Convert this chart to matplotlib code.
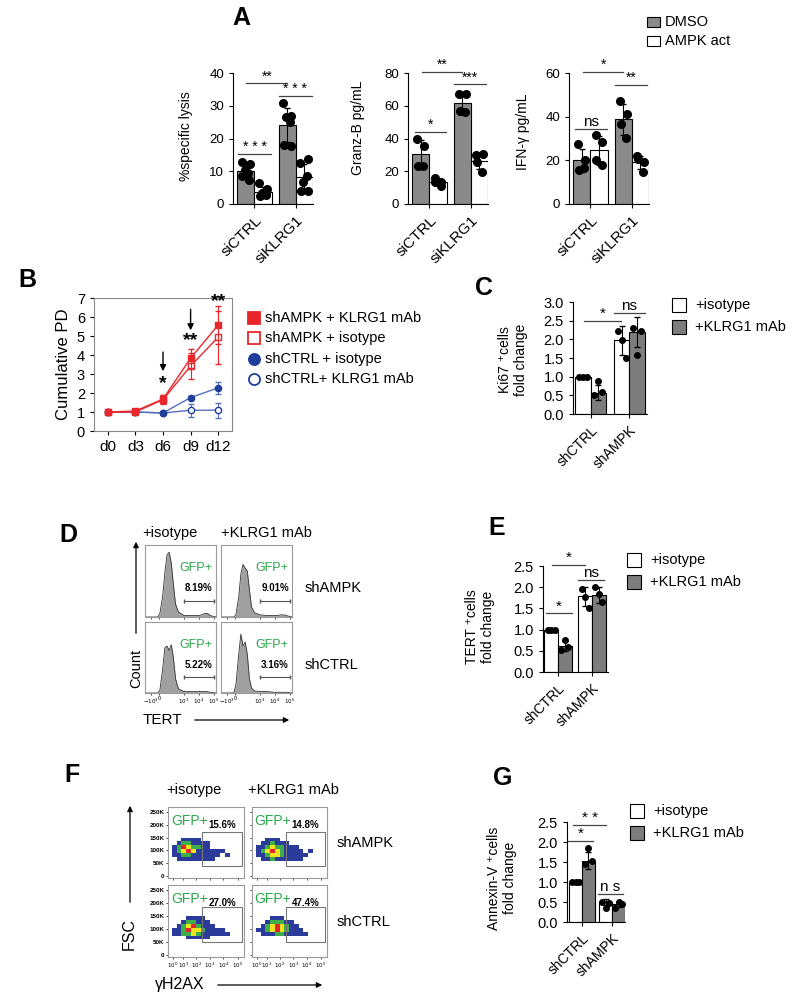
import numpy as np
import matplotlib
matplotlib.use("Agg")
import matplotlib.pyplot as plt
from matplotlib.patches import Rectangle
from matplotlib.colors import ListedColormap

plt.rcParams['font.family'] = ['Liberation Sans', 'DejaVu Sans']
plt.rcParams['axes.linewidth'] = 0.8

# --- DATA ---
# A: dots per group (siCTRL, siKLRG1)
a_groups = ["siCTRL", "siKLRG1"]
lysis_dmso = [[12.8, 12.2, 10.5, 9.5, 8.5, 7.3], [30.7, 27.0, 26.5, 25.0, 18.0, 17.7]]
lysis_act = [[6.5, 4.5, 3.5, 3.0, 2.5, 2.8], [12.4, 13.6, 6.8, 8.5, 4.1, 4.1]]
granz_dmso = [[40.0, 35.5, 23.4, 23.4], [67.4, 67.4, 56.9, 56.2]]
granz_act = [[15.6, 13.6, 13.2, 11.0], [29.8, 30.5, 25.8, 19.7]]
ifn_dmso = [[27.4, 20.1, 15.5, 16.7], [47.2, 41.4, 36.5, 30.4]]
ifn_act = [[31.8, 28.5, 20.1, 17.8], [21.9, 19.3, 20.4, 14.8]]

# B: cumulative population doublings
b_days = ["d0", "d3", "d6", "d9", "d12"]
pd_ampk_mab = [1.0, 1.05, 1.68, 3.83, 5.58]
pd_ampk_mab_err = [0.0, 0.05, 0.2, 0.5, 1.0]
pd_ampk_iso = [1.0, 1.0, 1.65, 3.42, 4.94]
pd_ampk_iso_err = [0.0, 0.05, 0.25, 0.7, 1.4]
pd_ctrl_iso = [1.0, 1.0, 0.95, 1.76, 2.27]
pd_ctrl_iso_err = [0.0, 0.03, 0.05, 0.08, 0.3]
pd_ctrl_mab = [1.0, 1.0, 0.95, 1.09, 1.1]
pd_ctrl_mab_err = [0.0, 0.03, 0.05, 0.35, 0.4]

# C, E, G: fold change (shCTRL, shAMPK)
sh_groups = ["shCTRL", "shAMPK"]
ki67_iso = [[1.0, 1.0, 1.0], [2.23, 1.98, 1.49]]
ki67_mab = [[0.51, 0.89, 0.58], [2.3, 1.57, 2.23]]
ki67_bar_iso = [1.0, 1.97]
ki67_bar_mab = [0.57, 2.2]
tert_iso = [[1.0, 1.0, 1.0], [1.95, 1.77, 1.5]]
tert_mab = [[0.53, 0.76, 0.6], [2.01, 1.84, 1.64]]
tert_bar_iso = [1.0, 1.79]
tert_bar_mab = [0.61, 1.81]
annex_iso = [[1.0, 1.0, 1.0], [0.5, 0.36, 0.48]]
annex_mab = [[1.46, 1.86, 1.53], [0.36, 0.5, 0.46]]
annex_bar_iso = [1.0, 0.49]
annex_bar_mab = [1.53, 0.44]

# D: TERT histograms (fraction of axis), shape
hist_x = [0, .18, .21, .25, .28, .31, .34, .37, .40, .43, .47, .55, .65, .75, .8, .84, .88, .92, 1]
hist_ampk_iso = [0, 0, .05, .3, .62, .86, .9, .75, .45, .18, .07, .02, .02, .02, .03, .05, .05, .02, 0]
hist_ampk_mab = [0, 0, .03, .28, .6, .73, .68, .64, .38, .14, .06, .03, .02, .02, .02, .03, .03, .02, 0]
hist_ctrl_iso = [0, 0, .04, .35, .64, .66, .6, .68, .5, .2, .06, .02, .02, .02, .02, .02, .02, .01, 0]
hist_ctrl_mab = [0, 0, .12, .55, .83, .66, .72, .55, .2, .07, .03, .02, .02, .01, .01, .01, .01, .01, 0]
d_pct = ["8.19%", "9.01%", "5.22%", "3.16%"]

# F: gammaH2AX vs FSC density levels (rows 60K->150K, columns along x)
dens_ampk_iso = [[0, 1, 1, 1, 1, 1, 1, 1, 1, 0, 0, 0],
                 [1, 1, 2, 2, 1, 1, 1, 1, 1, 1, 0, 1],
                 [1, 2, 3, 4, 3, 1, 1, 1, 1, 1, 1, 0],
                 [1, 2, 4, 3, 2, 2, 1, 1, 0, 0, 0, 0],
                 [0, 1, 2, 2, 1, 1, 1, 1, 0, 0, 0, 0],
                 [0, 0, 1, 1, 1, 1, 0, 0, 0, 0, 0, 0]]
dens_ampk_mab = [[0, 1, 1, 2, 1, 1, 1, 1, 1, 1, 0, 0],
                 [1, 1, 2, 3, 3, 2, 1, 1, 1, 1, 1, 0],
                 [1, 2, 3, 4, 3, 2, 1, 1, 1, 1, 0, 1],
                 [1, 1, 2, 3, 2, 2, 1, 1, 1, 0, 0, 0],
                 [0, 1, 1, 2, 1, 1, 1, 0, 0, 0, 0, 0],
                 [0, 0, 1, 1, 1, 0, 0, 0, 0, 0, 0, 0]]
dens_ctrl_iso = [[0, 0, 0, 1, 1, 1, 1, 1, 0, 0, 0, 0],
                 [1, 1, 2, 2, 3, 2, 1, 1, 1, 1, 1, 1],
                 [1, 1, 2, 4, 3, 3, 2, 1, 1, 1, 1, 0],
                 [0, 1, 2, 3, 4, 2, 1, 1, 1, 0, 0, 0],
                 [0, 0, 1, 2, 2, 1, 1, 1, 0, 0, 0, 0],
                 [0, 0, 0, 1, 1, 1, 1, 0, 0, 0, 0, 0]]
dens_ctrl_mab = [[0, 0, 0, 0, 0, 0, 0, 0, 0, 0, 0, 0],
                 [0, 1, 1, 1, 2, 2, 1, 1, 1, 1, 1, 0],
                 [1, 1, 2, 3, 4, 3, 2, 1, 1, 1, 0, 0],
                 [0, 1, 2, 3, 4, 3, 2, 1, 1, 0, 0, 0],
                 [0, 0, 1, 2, 2, 2, 1, 1, 0, 0, 0, 0],
                 [0, 0, 0, 1, 1, 1, 0, 0, 0, 0, 0, 0]]
f_pct = ["15.6%", "14.8%", "27.0%", "47.4%"]

# --- FIGURE ---
W, H = 800, 1007
fig = plt.figure(figsize=(8, 10.07), dpi=100)

# horizontal scatter of dots inside a bar (fraction of bar width)
jitter = {3: [-0.25, 0.0, 0.25], 4: [-0.2, 0.2, -0.15, 0.15], 6: [-0.22, 0.22, -0.05, 0.15, -0.2, 0.2]}


def px_axes(x0, y0, x1, y1):
    return fig.add_axes([x0 / W, 1 - y1 / H, (x1 - x0) / W, (y1 - y0) / H])


def draw_bars(ax, series, heights, colors, width, ms):
    for t, (pts_by_group, col) in enumerate(zip(series, colors)):
        for g, pts in enumerate(pts_by_group):
            x = g + (t - 0.5) * width
            m = heights[t][g] if heights is not None else np.mean(pts)
            sd = np.std(pts, ddof=1)
            ax.bar(x, m, width, color=col, edgecolor='black', linewidth=0.8, zorder=2)
            ax.errorbar(x, m, yerr=sd, color='black', capsize=2.5, lw=0.8, zorder=3)
            offs = np.array(jitter[len(pts)]) * width
            ax.plot(x + offs, pts, 'o', color='black', ms=ms, zorder=4)


def sig(ax, x0, x1, y, label, fs=10, pad=0.0):
    ax.plot([x0, x1], [y, y], color='#444444', lw=0.9, clip_on=False)
    ax.text((x0 + x1) / 2, y + pad, label, ha='center', va='bottom', fontsize=fs, clip_on=False)


def style_bar_axes(ax, groups, xlim, ylim, yticks, ylabels, fs_y, fs_x):
    ax.set_xlim(*xlim)
    ax.set_ylim(*ylim)
    ax.set_yticks(yticks)
    ax.set_yticklabels(ylabels, fontsize=fs_y)
    ax.set_xticks([0, 1])
    ax.set_xticklabels(groups, rotation=45, ha='right', rotation_mode='anchor', fontsize=fs_x)
    for s in ['top', 'right']:
        ax.spines[s].set_visible(False)
    ax.tick_params(length=3, width=0.8)


# Panel A
a_sets = [(lysis_dmso, lysis_act, (233, 73, 313, 204), 40, [0, 10, 20, 30, 40],
           [(-0.41, 0.41, 15.2, "* * *"), (-0.2, 0.8, 36.8, "**"), (0.59, 1.39, 32.9, "* * *")]),
          (granz_dmso, granz_act, (408, 73, 488, 204), 80, [0, 20, 40, 60, 80],
           [(-0.36, 0.4, 44, "*"), (-0.19, 0.79, 80.6, "**"), (0.6, 1.36, 73, "***")]),
          (ifn_dmso, ifn_act, (569, 73, 649, 204), 60, [0, 20, 40, 60],
           [(-0.38, 0.4, 34.5, "ns"), (-0.17, 0.79, 60.4, "*"), (0.6, 1.36, 54.6, "**")])]
for dmso, act, box, ymax, ticks, sigs in a_sets:
    ax = px_axes(*box)
    draw_bars(ax, [dmso, act], None, ['#8a8a8a', 'white'], 0.415, 5.5)
    style_bar_axes(ax, a_groups, (-0.52, 1.42), (0, ymax), ticks, [str(t) for t in ticks], 9.5, 11)
    for x0, x1, y, lab in sigs:
        sig(ax, x0, x1, y, lab, fs=10 if lab != "ns" else 11)

# Panel B
axb = px_axes(94, 298, 232, 431)
xb = np.arange(len(b_days))
red, blue_l, blue_m = '#e8262c', '#5470c0', '#1f3e9c'
axb.errorbar(xb, pd_ctrl_mab, yerr=pd_ctrl_mab_err, color=blue_l, marker='o', mfc='white', mec=blue_m,
             ms=4.5, lw=1, capsize=2, elinewidth=0.8, zorder=3)
axb.errorbar(xb, pd_ctrl_iso, yerr=pd_ctrl_iso_err, color=blue_l, marker='o', mfc=blue_m, mec=blue_m,
             ms=4.5, lw=1, capsize=2, elinewidth=0.8, zorder=3)
axb.errorbar(xb, pd_ampk_iso, yerr=pd_ampk_iso_err, color=red, marker='s', mfc='white', mec=red,
             ms=5, lw=1, capsize=2, elinewidth=0.8, zorder=4)
axb.errorbar(xb, pd_ampk_mab, yerr=pd_ampk_mab_err, color=red, marker='s', mfc=red, mec=red,
             ms=5, lw=1, capsize=2, elinewidth=0.8, zorder=5)
axb.set_xlim(-0.5, 4.5)
axb.set_ylim(0, 7)
axb.set_yticks(range(8))
axb.tick_params(labelsize=10.5, length=3, width=0.8)
axb.set_xticks(xb)
axb.set_xticklabels(b_days, fontsize=11)
for s in axb.spines.values():
    s.set_color('#888888')
axb.set_ylabel("Cumulative PD", fontsize=12, labelpad=4)
axb.annotate('', xy=(2, 3.0), xytext=(2, 4.3), arrowprops=dict(arrowstyle='-|>', color='black', lw=1, mutation_scale=9))
axb.annotate('', xy=(3, 5.15), xytext=(3, 6.55), arrowprops=dict(arrowstyle='-|>', color='black', lw=1, mutation_scale=9))
axb.text(2, 2.05, "*", ha='center', va='bottom', fontsize=14, fontweight='bold')
axb.text(3, 4.3, "**", ha='center', va='bottom', fontsize=14, fontweight='bold')
axb.text(4, 6.35, "**", ha='center', va='bottom', fontsize=14, fontweight='bold', clip_on=False)

# Panel C
axc = px_axes(573, 302, 647, 414)
draw_bars(axc, [ki67_iso, ki67_mab], [ki67_bar_iso, ki67_bar_mab], ['white', '#7d7d7d'], 0.4, 4)
fold_ticks = [0, 0.5, 1.0, 1.5, 2.0, 2.5, 3.0]
style_bar_axes(axc, sh_groups, (-0.45, 1.45), (0, 3), fold_ticks, [f"{t:.1f}" for t in fold_ticks], 10.5, 10)
sig(axc, -0.18, 0.79, 2.5, "*", fs=11)
sig(axc, 0.6, 1.39, 2.7, "ns", fs=11)

# Panel E
axe = px_axes(543, 566, 608, 672)
draw_bars(axe, [tert_iso, tert_mab], [tert_bar_iso, tert_bar_mab], ['white', '#7d7d7d'], 0.4, 4)
e_ticks = [0, 0.5, 1.0, 1.5, 2.0, 2.5]
style_bar_axes(axe, sh_groups, (-0.44, 1.47), (0, 2.5), e_ticks, [f"{t:.1f}" for t in e_ticks], 10.5, 10)
sig(axe, -0.18, 0.79, 2.52, "*", fs=11)
sig(axe, -0.35, 0.41, 1.38, "*", fs=11)
sig(axe, 0.59, 1.35, 2.17, "ns", fs=11)

# Panel G
axg = px_axes(567, 822, 625, 922)
draw_bars(axg, [annex_iso, annex_mab], [annex_bar_iso, annex_bar_mab], ['white', '#7d7d7d'], 0.43, 4)
style_bar_axes(axg, sh_groups, (-0.5, 1.43), (0, 2.5), e_ticks, [f"{t:.1f}" for t in e_ticks], 10.5, 10)
sig(axg, -0.47, 0.37, 2.02, "*", fs=11)
sig(axg, -0.3, 0.8, 2.42, "* *", fs=11)
sig(axg, 0.53, 1.37, 0.69, "n s", fs=11)

# Panel D histograms
d_boxes = [(145, 545, 216, 617), (221, 545, 292, 617), (145, 622, 216, 693), (221, 622, 292, 693)]
d_hists = [hist_ampk_iso, hist_ampk_mab, hist_ctrl_iso, hist_ctrl_mab]
for i, (box, hy, pct) in enumerate(zip(d_boxes, d_hists, d_pct)):
    ax = px_axes(*box)
    ax.fill_between(hist_x, hy, color='#a0a0a0', lw=0)
    ax.plot(hist_x, hy, color='#333333', lw=0.6)
    ax.plot([0.55, 0.97], [0.22, 0.22], color='#555555', lw=0.8, marker='|', ms=3)
    ax.text(0.72, 0.68, "GFP+", color='#2aa84a', fontsize=9, ha='center', va='center', transform=ax.transAxes)
    ax.text(0.76, 0.4, pct, fontsize=7, fontweight='bold', ha='center', va='center', transform=ax.transAxes)
    ax.set_xlim(0, 1)
    ax.set_ylim(0, 1)
    ax.set_yticks([])
    ax.set_xticks([0.08, 0.2, 0.55, 0.76, 0.97])
    if i >= 2:
        ax.set_xticklabels(["$-10^3$", "0", "$10^3$", "$10^4$", "$10^5$"], fontsize=4)
    else:
        ax.set_xticklabels([])
    ax.tick_params(axis='x', length=1.5, width=0.5, pad=1)
    for s in ax.spines.values():
        s.set_color('#9a9a9a')

# Panel F dot plots
f_boxes = [(168, 807, 244, 878), (252, 807, 327, 878), (168, 885, 244, 957), (252, 885, 327, 957)]
f_dens = [dens_ampk_iso, dens_ampk_mab, dens_ctrl_iso, dens_ctrl_mab]
flow_cmap = ListedColormap(['#2a3b9c', '#3fae4a', '#f2e41c', '#e4262c'])
xe = np.linspace(0.05, 0.81, 13)
ye = np.linspace(60, 150, 7)
for i, (box, dens, pct) in enumerate(zip(f_boxes, f_dens, f_pct)):
    ax = px_axes(*box)
    z = np.ma.masked_equal(np.array(dens, dtype=float), 0)
    ax.pcolormesh(xe, ye, z, cmap=flow_cmap, vmin=0.5, vmax=4.5)
    gy0 = 39 if i < 2 else 50
    ax.add_patch(Rectangle((0.45, gy0), 0.52, 134, fill=False, ec='#777777', lw=0.8))
    ax.text(0.28, 0.8, "GFP+", color='#2aa84a', fontsize=10, ha='center', va='center', transform=ax.transAxes)
    ax.text(0.71, 0.75, pct, fontsize=7, fontweight='bold', ha='center', va='center', transform=ax.transAxes)
    ax.set_xlim(0, 1)
    ax.set_ylim(-8, 270)
    ax.set_yticks([0, 50, 100, 150, 200, 250])
    ax.set_xticks([0.06, 0.2, 0.37, 0.55, 0.73, 0.92])
    if i % 2 == 0:
        ax.set_yticklabels(["0", "50K", "100K", "150K", "200K", "250K"], fontsize=4.5, fontweight='bold')
    else:
        ax.set_yticklabels([])
    if i >= 2:
        ax.set_xticklabels(["$10^0$", "$10^1$", "$10^2$", "$10^3$", "$10^4$", "$10^5$"], fontsize=4)
    else:
        ax.set_xticklabels([])
    ax.tick_params(length=1.5, width=0.5, pad=1)
    for s in ax.spines.values():
        s.set_color('#9a9a9a')

# --- overlay for labels, legends and arrows (pixel coordinates) ---
ov = fig.add_axes([0, 0, 1, 1])
ov.set_xlim(0, W)
ov.set_ylim(H, 0)
ov.axis('off')

for lab, (x, y) in zip("ABCDEFG", [(241, 18), (27, 280), (484, 288), (68, 535), (497, 528), (72, 775), (503, 778)]):
    ov.text(x, y, lab, fontsize=18, fontweight='bold', ha='center', va='center')

# A labels and legend
ov.text(186, 136, "%specific lysis", rotation=90, ha='center', va='center', fontsize=10)
ov.text(358, 128, "Granz-B pg/mL", rotation=90, ha='center', va='center', fontsize=10)
ov.text(523, 132, "IFN-\u03b3 pg/mL", rotation=90, ha='center', va='center', fontsize=10)
ov.add_patch(Rectangle((647, 17), 13, 10, fc='#8a8a8a', ec='black', lw=0.8))
ov.add_patch(Rectangle((647, 36), 13, 10, fc='white', ec='black', lw=0.8))
ov.text(665, 22, "DMSO", fontsize=10.5, va='center')
ov.text(665, 41, "AMPK act", fontsize=10.5, va='center')

# B legend
b_leg = [("shAMPK + KLRG1 mAb", 's', red, red), ("shAMPK + isotype", 's', 'white', red),
         ("shCTRL + isotype", 'o', blue_m, blue_m), ("shCTRL+ KLRG1 mAb", 'o', 'white', blue_m)]
for k, (txt, mk, fc, ec) in enumerate(b_leg):
    yy = 318 + k * 20.3
    ov.plot([254], [yy], marker=mk, ms=8, mfc=fc, mec=ec, mew=1.3)
    ov.text(265, yy, txt, fontsize=10.5, va='center')

# C/E/G y labels and legends
ov.text(513, 360, "Ki67 \u207acells\nfold change", rotation=90, ha='center', va='center', fontsize=10, linespacing=1.1)
ov.text(480, 627, "TERT \u207acells\nfold change", rotation=90, ha='center', va='center', fontsize=10, linespacing=1.1)
ov.text(502, 878, "Annexin-V \u207acells\nfold change", rotation=90, ha='center', va='center', fontsize=10, linespacing=1.1)
for (lx, ly) in [(672, 298), (627, 553), (630, 804)]:
    ov.add_patch(Rectangle((lx, ly), 14, 14, fc='white', ec='black', lw=0.8))
    ov.add_patch(Rectangle((lx, ly + 22), 14, 14, fc='#7d7d7d', ec='black', lw=0.8))
    ov.text(lx + 23, ly + 7, "+isotype", fontsize=10.5, va='center')
    ov.text(lx + 23, ly + 29, "+KLRG1 mAb", fontsize=10.5, va='center')

# D annotations
ov.text(170, 533, "+isotype", fontsize=10.5, ha='center', va='center')
ov.text(266, 533, "+KLRG1 mAb", fontsize=10.5, ha='center', va='center')
ov.text(305, 588, "shAMPK", fontsize=10.5, va='center')
ov.text(305, 665, "shCTRL", fontsize=10.5, va='center')
ov.annotate('', xy=(136, 539), xytext=(136, 636), arrowprops=dict(arrowstyle='-|>', color='black', lw=0.9, mutation_scale=8))
ov.text(136, 668, "Count", rotation=90, fontsize=10.5, ha='center', va='center')
ov.text(162, 720, "TERT", fontsize=11, ha='center', va='center')
ov.annotate('', xy=(292, 720), xytext=(192, 720), arrowprops=dict(arrowstyle='-|>', color='black', lw=0.9, mutation_scale=8))

# F annotations
ov.text(194, 790, "+isotype", fontsize=10.5, ha='center', va='center')
ov.text(293, 790, "+KLRG1 mAb", fontsize=10.5, ha='center', va='center')
ov.text(337, 843, "shAMPK", fontsize=10.5, va='center')
ov.text(337, 922, "shCTRL", fontsize=10.5, va='center')
ov.annotate('', xy=(130, 803), xytext=(130, 905), arrowprops=dict(arrowstyle='-|>', color='black', lw=0.9, mutation_scale=8))
ov.text(129, 934, "FSC", rotation=90, fontsize=11.5, ha='center', va='center')
ov.text(180, 985, "\u03b3H2AX", fontsize=11.5, ha='center', va='center')
ov.annotate('', xy=(325, 985), xytext=(215, 985), arrowprops=dict(arrowstyle='-|>', color='black', lw=0.9, mutation_scale=8))

fig.savefig("out.png", dpi=100)
